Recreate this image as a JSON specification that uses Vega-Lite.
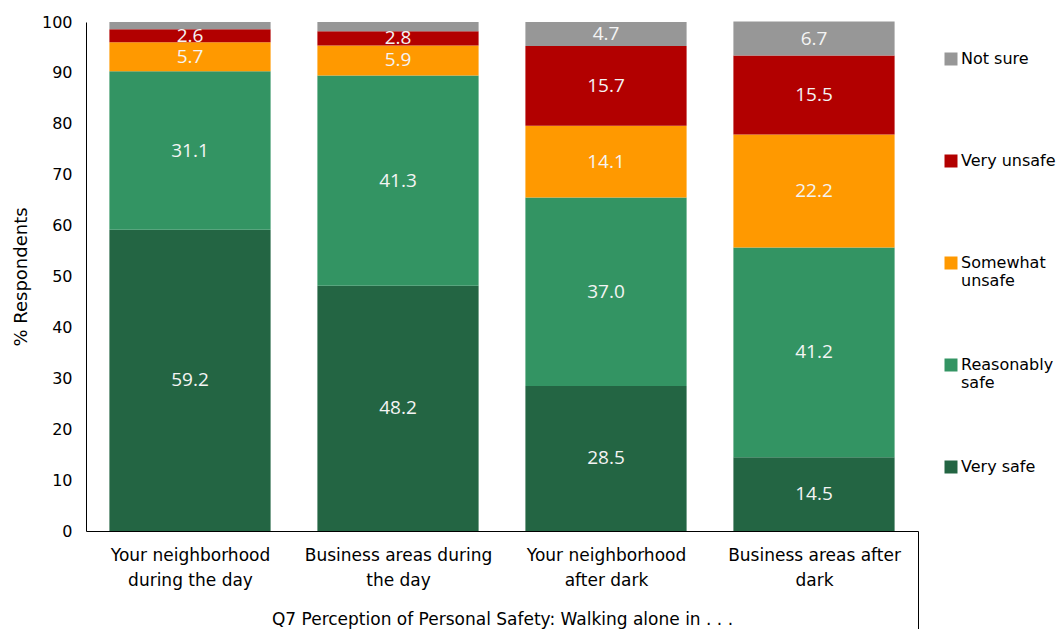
{
  "$schema": "https://vega.github.io/schema/vega-lite/v6.json",
  "width": 832,
  "height": 509,
  "autosize": {"type": "none"},
  "padding": {"left": 86, "top": 22, "right": 145, "bottom": 98},
  "background": "white",
  "config": {
    "view": {"stroke": null},
    "font": "DejaVu Sans"
  },
  "data": {
    "values": [
      {"cat": "Your neighborhood|during the day", "resp": "Very safe", "order": 1, "value": 59.2},
      {"cat": "Your neighborhood|during the day", "resp": "Reasonably safe", "order": 2, "value": 31.1},
      {"cat": "Your neighborhood|during the day", "resp": "Somewhat unsafe", "order": 3, "value": 5.7},
      {"cat": "Your neighborhood|during the day", "resp": "Very unsafe", "order": 4, "value": 2.6},
      {"cat": "Your neighborhood|during the day", "resp": "Not sure", "order": 5, "value": 1.4},
      {"cat": "Business areas during|the day", "resp": "Very safe", "order": 1, "value": 48.2},
      {"cat": "Business areas during|the day", "resp": "Reasonably safe", "order": 2, "value": 41.3},
      {"cat": "Business areas during|the day", "resp": "Somewhat unsafe", "order": 3, "value": 5.9},
      {"cat": "Business areas during|the day", "resp": "Very unsafe", "order": 4, "value": 2.8},
      {"cat": "Business areas during|the day", "resp": "Not sure", "order": 5, "value": 1.8},
      {"cat": "Your neighborhood|after dark", "resp": "Very safe", "order": 1, "value": 28.5},
      {"cat": "Your neighborhood|after dark", "resp": "Reasonably safe", "order": 2, "value": 37.0},
      {"cat": "Your neighborhood|after dark", "resp": "Somewhat unsafe", "order": 3, "value": 14.1},
      {"cat": "Your neighborhood|after dark", "resp": "Very unsafe", "order": 4, "value": 15.7},
      {"cat": "Your neighborhood|after dark", "resp": "Not sure", "order": 5, "value": 4.7},
      {"cat": "Business areas after|dark", "resp": "Very safe", "order": 1, "value": 14.5},
      {"cat": "Business areas after|dark", "resp": "Reasonably safe", "order": 2, "value": 41.2},
      {"cat": "Business areas after|dark", "resp": "Somewhat unsafe", "order": 3, "value": 22.2},
      {"cat": "Business areas after|dark", "resp": "Very unsafe", "order": 4, "value": 15.5},
      {"cat": "Business areas after|dark", "resp": "Not sure", "order": 5, "value": 6.7}
    ]
  },
  "transform": [
    {"stack": "value", "groupby": ["cat"], "sort": [{"field": "order", "order": "ascending"}], "as": ["v0", "v1"]},
    {"calculate": "(datum.v0 + datum.v1) / 2", "as": "mid"}
  ],
  "encoding": {
    "x": {
      "field": "cat",
      "type": "nominal",
      "sort": null,
      "scale": {"paddingInner": 0, "paddingOuter": 0},
      "axis": {
        "title": "Q7 Perception of Personal Safety: Walking alone in . . .",
        "titleFont": "DejaVu Sans",
        "titleFontSize": 17,
        "titleFontWeight": "normal",
        "titleColor": "black",
        "titleY": 93,
        "titleBaseline": "alphabetic",
        "labelExpr": "split(datum.label, '|')",
        "labelAngle": 0,
        "labelFontSize": 17,
        "labelColor": "black",
        "labelLineHeight": 25,
        "labelPadding": -82,
        "labelBaseline": "top",
        "labelLimit": 300,
        "tickBand": "extent",
        "tickSize": 98,
        "tickColor": {"expr": "datum.index >= 1 ? 'black' : 'transparent'"},
        "tickWidth": 1,
        "domainColor": "black",
        "domainWidth": 1
      }
    }
  },
  "layer": [
    {
      "mark": {"type": "bar", "width": {"band": 0.775}},
      "encoding": {
        "y": {
          "field": "v0",
          "type": "quantitative",
          "scale": {"domain": [0, 100]},
          "axis": {
            "title": "% Respondents",
            "titleFontSize": 18,
            "titleFontWeight": "normal",
            "titleColor": "black",
            "titlePadding": 11,
            "values": [0, 10, 20, 30, 40, 50, 60, 70, 80, 90, 100],
            "ticks": false,
            "grid": false,
            "labelFontSize": 16,
            "labelColor": "black",
            "labelPadding": 14,
            "domainColor": "black"
          }
        },
        "y2": {"field": "v1"},
        "color": {
          "field": "resp",
          "type": "nominal",
          "scale": {
            "domain": ["Not sure", "Very unsafe", "Somewhat unsafe", "Reasonably safe", "Very safe"],
            "range": ["#979797", "#B20000", "#FF9900", "#339463", "#236543"]
          },
          "legend": {
            "title": null,
            "orient": "none",
            "legendX": 857,
            "legendY": 29,
            "padding": 0,
            "symbolType": "square",
            "symbolSize": 169,
            "symbolStrokeWidth": 0,
            "labelFontSize": 16,
            "labelColor": "black",
            "labelOffset": 2,
            "labelExpr": "datum.label == 'Somewhat unsafe' ? ['Somewhat', 'unsafe'] : datum.label == 'Reasonably safe' ? ['Reasonably', 'safe'] : [datum.label, ' ']",
            "labelLimit": 200,
            "rowPadding": 68
          }
        }
      }
    },
    {
      "transform": [{"filter": "datum.value > 2"}],
      "mark": {"type": "text", "color": "#F4F4F4", "font": "Open Sans", "fontSize": 19, "baseline": "middle"},
      "encoding": {
        "y": {"field": "mid", "type": "quantitative"},
        "text": {"field": "value", "type": "quantitative", "format": ".1f"}
      }
    }
  ]
}
